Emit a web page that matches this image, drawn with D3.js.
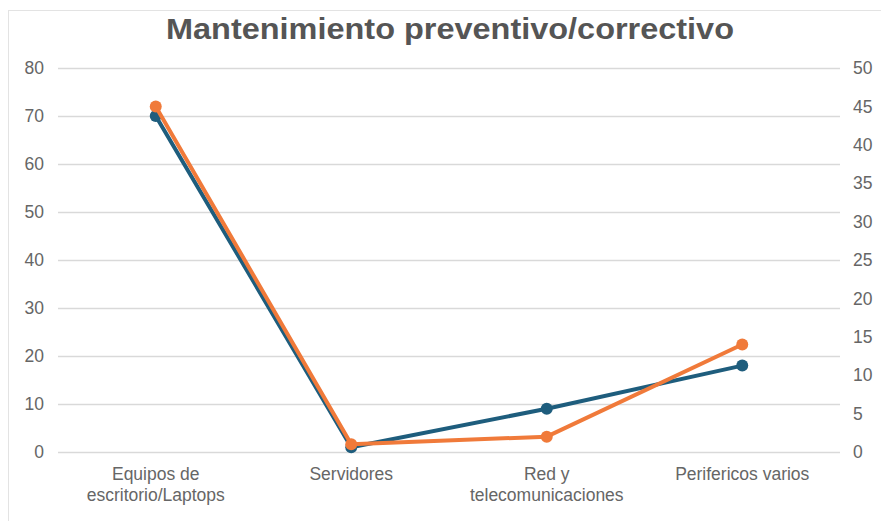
<!DOCTYPE html>
<html>
<head>
<meta charset="utf-8">
<script src="https://cdn.jsdelivr.net/npm/d3@7"></script>
<style>
  body { margin: 0; background: #fff; }
  svg { display: block; font-family: "Liberation Sans", Arial, sans-serif; }
  .axis path, .axis line { display: none; }
  .axis text { fill: #666; font-size: 17.5px; }
  .grid line { stroke: #d9d9d9; stroke-width: 1.3; }
  .grid path { display: none; }
</style>
</head>
<body>
<div id="chart"></div>
<script>
const width = 881;
const height = 521;
const margin = { top: 68, right: 41, bottom: 69, left: 58 };

const categories = [
  "Equipos de\nescritorio/Laptops",
  "Servidores",
  "Red y\ntelecomunicaciones",
  "Perifericos varios",
];
const leftSeries = [70, 1, 9, 18];
const rightSeries = [45, 1, 2, 14];
const leftTicks = [0, 10, 20, 30, 40, 50, 60, 70, 80];
const rightTicks = [0, 5, 10, 15, 20, 25, 30, 35, 40, 45, 50];

const svg = d3
  .select("#chart")
  .append("svg")
  .attr("width", width)
  .attr("height", height);

// card outline
svg
  .append("rect")
  .attr("x", 8.5)
  .attr("y", 10.5)
  .attr("width", width + 10)
  .attr("height", height + 10)
  .attr("fill", "#fff")
  .attr("stroke", "#e3e3e3");

svg
  .append("text")
  .attr("x", 450)
  .attr("y", 39)
  .attr("text-anchor", "middle")
  .attr("fill", "#555")
  .attr("font-size", 29)
  .attr("font-weight", "bold")
  .attr("textLength", 568)
  .attr("lengthAdjust", "spacingAndGlyphs")
  .text("Mantenimiento preventivo/correctivo");

const plotWidth = width - margin.left - margin.right;
const plotHeight = height - margin.top - margin.bottom;

const g = svg
  .append("g")
  .attr("transform", `translate(${margin.left},${margin.top})`);

const x = d3.scaleBand().domain(categories).range([0, plotWidth]);
const yLeft = d3.scaleLinear().domain([0, 80]).range([plotHeight, 0]);
const yRight = d3.scaleLinear().domain([0, 50]).range([plotHeight, 0]);

g.append("g")
  .attr("class", "grid")
  .call(d3.axisLeft(yLeft).tickValues(leftTicks).tickSize(-plotWidth).tickFormat(""));

g.append("g")
  .attr("class", "axis")
  .attr("transform", "translate(-11,0)")
  .call(d3.axisLeft(yLeft).tickValues(leftTicks).tickSize(0));

g.append("g")
  .attr("class", "axis")
  .attr("transform", `translate(${plotWidth + 10},0)`)
  .call(d3.axisRight(yRight).tickValues(rightTicks).tickSize(0));

const xAxis = g
  .append("g")
  .attr("class", "axis")
  .attr("transform", `translate(0,${plotHeight})`)
  .call(d3.axisBottom(x).tickSize(0).tickFormat(""));

xAxis
  .selectAll(".tick")
  .append("text")
  .attr("fill", "#666")
  .attr("text-anchor", "middle")
  .selectAll("tspan")
  .data((d) => d.split("\n"))
  .join("tspan")
  .attr("x", 0)
  .attr("y", (d, i) => 28 + i * 21)
  .text((d) => d);

function drawSeries(values, y, color) {
  const pts = values.map((v, i) => ({ c: categories[i], v }));
  const line = d3
    .line()
    .x((d) => x(d.c) + x.bandwidth() / 2)
    .y((d) => y(d.v));
  g.append("path")
    .datum(pts)
    .attr("fill", "none")
    .attr("stroke", color)
    .attr("stroke-width", 4)
    .attr("stroke-linejoin", "round")
    .attr("d", line);
  g.append("g")
    .selectAll("circle")
    .data(pts)
    .join("circle")
    .attr("cx", (d) => x(d.c) + x.bandwidth() / 2)
    .attr("cy", (d) => y(d.v))
    .attr("r", 6)
    .attr("fill", color);
}

drawSeries(leftSeries, yLeft, "#1e5d7d");
drawSeries(rightSeries, yRight, "#f07a3a");
</script>
</body>
</html>
